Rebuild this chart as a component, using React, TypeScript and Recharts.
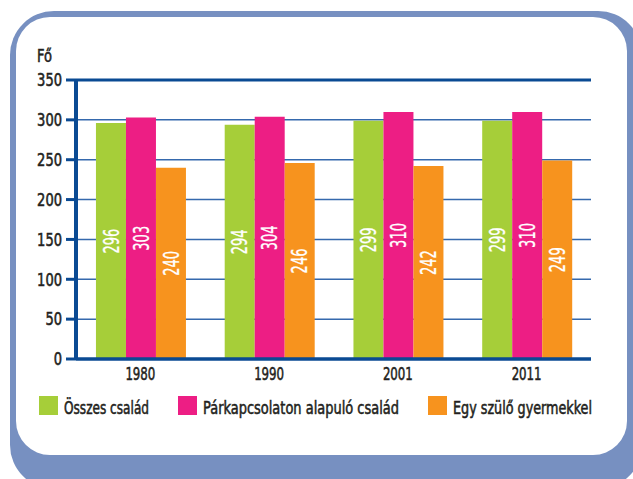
import React from "react";
import {
  BarChart,
  Bar,
  XAxis,
  YAxis,
  CartesianGrid,
  ReferenceLine,
  LabelList,
  Legend,
} from "recharts";

const years = ["1980", "1990", "2001", "2011"];
const osszes = [296, 294, 299, 299];
const parkapcsolat = [303, 304, 310, 310];
const egySzulo = [240, 246, 242, 249];
const yTicks = [0, 50, 100, 150, 200, 250, 300, 350];
const boundaryTicks = [0, 1, 2, 3, 4];
const unitLabel = "Fő";

const seriesKeys = ["osszes", "par", "egy"];
const seriesNames = [
  "Összes család",
  "Párkapcsolaton alapuló család",
  "Egy szülő gyermekkel",
];
const seriesColors = ["#a6ce39", "#ed1e84", "#f7931e"];

const data = years.map((year, i) => ({
  year,
  osszes: osszes[i],
  par: parkapcsolat[i],
  egy: egySzulo[i],
}));

const FONT =
  "'DejaVu Sans Condensed', 'Liberation Sans Narrow', 'Liberation Sans', sans-serif";
const AXIS_BLUE = "#0a4a93";
const TEXT = "#231f20";
const BOLDEN = 0.55;

// legend layout (style only)
const legendSquareX = [39, 178, 428];
const legendTextLen = [85, 196, 139];

const BarValueLabel = (props: any) => {
  const { x, y, width, height, value } = props;
  const cx = Number(x) + Number(width) / 2;
  const cy = Number(y) + Number(height) / 2;
  const s = String(value);
  return (
    <text
      x={cx}
      y={cy}
      dy="0.36em"
      transform={`rotate(-90 ${cx} ${cy})`}
      textAnchor="middle"
      fill="#ffffff"
      stroke="#ffffff"
      strokeWidth={0.3}
      fontSize={21}
      fontFamily={FONT}
      textLength={s.length * 8.3}
      lengthAdjust="spacingAndGlyphs"
    >
      {s}
    </text>
  );
};

const YTick = (props: any) => {
  const { x, y, payload } = props;
  const s = String(payload.value);
  return (
    <text
      x={x}
      y={y}
      dy="0.36em"
      textAnchor="end"
      fill={TEXT}
      stroke={TEXT}
      strokeWidth={BOLDEN}
      fontSize={17.5}
      fontFamily={FONT}
      textLength={s.length * 8.3}
      lengthAdjust="spacingAndGlyphs"
    >
      {s}
    </text>
  );
};

const XTick = (props: any) => {
  const { x, y, payload } = props;
  const s = String(payload.value);
  return (
    <text
      x={x}
      y={y}
      dy="0.72em"
      textAnchor="middle"
      fill={TEXT}
      stroke={TEXT}
      strokeWidth={BOLDEN}
      fontSize={18.5}
      fontFamily={FONT}
      textLength={s.length * 7.5}
      lengthAdjust="spacingAndGlyphs"
    >
      {s}
    </text>
  );
};

const UnitLabel = (props: any) => {
  const vb = props.viewBox || { x: 36, y: 80 };
  return (
    <text
      x={vb.x + 1}
      y={vb.y - 18}
      fill={TEXT}
      stroke={TEXT}
      strokeWidth={BOLDEN}
      fontSize={18.5}
      fontFamily={FONT}
      textLength={15}
      lengthAdjust="spacingAndGlyphs"
    >
      {unitLabel}
    </text>
  );
};

const LegendContent = () => (
  <svg width={633} height={30} overflow="visible" style={{ display: "block" }}>
    {seriesNames.map((name, i) => (
      <g key={name}>
        <rect
          x={legendSquareX[i]}
          y={6}
          width={19}
          height={19}
          fill={seriesColors[i]}
        />
        <text
          x={legendSquareX[i] + 25}
          y={23.5}
          fill={TEXT}
          stroke={TEXT}
          strokeWidth={BOLDEN}
          fontSize={18}
          fontFamily={FONT}
          textLength={legendTextLen[i]}
          lengthAdjust="spacingAndGlyphs"
        >
          {name}
        </text>
      </g>
    ))}
  </svg>
);

export default function App() {
  return (
    <div
      style={{
        position: "absolute",
        left: 0,
        top: 0,
        width: 633,
        height: 479,
        overflow: "hidden",
        background: "#ffffff",
      }}
    >
      <div
        style={{
          position: "absolute",
          left: 10,
          top: 11,
          width: 632,
          height: 478,
          borderRadius: 44,
          background: "#7790c1",
        }}
      />
      <div
        style={{
          position: "absolute",
          left: 16,
          top: 17,
          width: 611,
          height: 438,
          borderRadius: 34,
          background: "#ffffff",
        }}
      />
      <div style={{ position: "absolute", left: 0, top: 0 }}>
        <BarChart
          width={633}
          height={479}
          data={data}
          margin={{ top: 80, right: 42, bottom: 90, left: 36 }}
          barCategoryGap="15.5%"
          barGap={0}
        >
          <CartesianGrid
            vertical={false}
            stroke="#3569ad"
            strokeWidth={1.5}
          />
          {seriesKeys.map((k, i) => (
            <Bar
              key={k}
              dataKey={k}
              name={seriesNames[i]}
              fill={seriesColors[i]}
              isAnimationActive={false}
            >
              <LabelList dataKey={k} content={BarValueLabel} />
            </Bar>
          ))}
          <ReferenceLine y={350} stroke={AXIS_BLUE} strokeWidth={3} />
          <ReferenceLine
            x={4}
            xAxisId="grid"
            stroke={AXIS_BLUE}
            strokeWidth={3.5}
          />
          <XAxis
            dataKey="year"
            height={30}
            axisLine={{ stroke: AXIS_BLUE, strokeWidth: 3.5 }}
            tickLine={false}
            tickSize={0}
            tickMargin={8}
            tick={XTick}
            interval={0}
          />
          <XAxis
            xAxisId="grid"
            type="number"
            domain={[0, 4]}
            ticks={boundaryTicks}
            allowDataOverflow
            height={0}
            axisLine={false}
            tickLine={{ stroke: AXIS_BLUE, strokeWidth: 3 }}
            tickSize={9}
            tickFormatter={() => ""}
          />
          <YAxis
            width={40}
            domain={[0, 350]}
            ticks={yTicks}
            interval={0}
            axisLine={{ stroke: AXIS_BLUE, strokeWidth: 4 }}
            tickLine={{ stroke: AXIS_BLUE, strokeWidth: 3 }}
            tickSize={10}
            tickMargin={4}
            tick={YTick}
            label={UnitLabel}
          />
          <Legend
            verticalAlign="middle"
            layout="horizontal"
            wrapperStyle={{
              position: "absolute",
              left: 0,
              top: 390,
              width: 633,
              height: 30,
            }}
            content={LegendContent}
          />
        </BarChart>
      </div>
    </div>
  );
}
